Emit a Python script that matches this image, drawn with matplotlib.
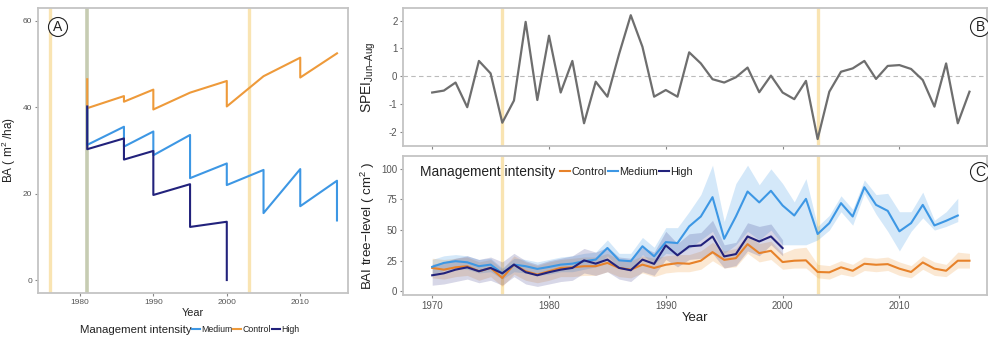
import matplotlib
matplotlib.use('Agg')
import matplotlib.pyplot as plt
from matplotlib.lines import Line2D
import numpy as np

plt.rcParams['font.family'] = ['Liberation Sans', 'DejaVu Sans']
plt.rcParams['axes.unicode_minus'] = False
plt.rcParams['mathtext.fontset'] = 'custom'
plt.rcParams['mathtext.rm'] = 'Liberation Sans'

# ---- data: panel A, stand basal area (steps = thinnings)
ctrl_yr = [1981, 1981, 1986, 1986, 1990, 1990, 1995, 2000, 2000, 2005, 2010, 2010, 2015]
ctrl_ba = [46.5, 39.8, 42.6, 41.3, 44.1, 39.5, 43.4, 46.1, 40.2, 47.2, 51.5, 46.9, 52.5]
med_yr = [1981, 1981, 1986, 1986, 1990, 1990, 1995, 1995, 2000, 2000, 2005, 2005, 2010, 2010, 2015, 2015]
med_ba = [40.0, 31.3, 35.5, 30.9, 34.4, 28.9, 33.6, 23.6, 27.0, 22.0, 25.5, 15.5, 25.7, 17.1, 23.0, 13.8]
high_yr = [1981, 1981, 1986, 1986, 1990, 1990, 1995, 1995, 2000, 2000]
high_ba = [40.2, 30.3, 32.8, 27.9, 29.9, 19.7, 22.2, 12.3, 13.5, 0.0]
drought_a = [1976, 2003]
thin_a = [1981]

# ---- data: panel B, SPEI Jun-Aug 1970-2016
spei_yr = list(range(1970, 2017))
spei = [-0.59, -0.52, -0.23, -1.12, 0.55, 0.10, -1.68, -0.88, 1.96, -0.86,
        1.46, -0.59, 0.55, -1.70, -0.20, -0.74, 0.80, 2.20, 1.06, -0.74,
        -0.50, -0.74, 0.86, 0.46, -0.11, -0.23, -0.04, 0.31, -0.58, 0.02,
        -0.59, -0.83, -0.17, -2.27, -0.56, 0.16, 0.28, 0.55, -0.10, 0.37,
        0.40, 0.26, -0.14, -1.10, 0.46, -1.70, -0.56]
drought_bc = [1976, 2003]

# ---- data: panel C, BAI tree level with confidence band
bai_ctrl_yr = list(range(1970, 2017))
bai_ctrl = [19.1, 17.7, 19.6, 20.5, 16.4, 19.1, 10.9, 21.8, 16.4, 13.7,
            16.4, 19.1, 19.6, 20.5, 20.5, 23.2, 19.1, 17.7, 21.8, 19.1,
            21.7, 23.0, 22.5, 25.0, 32.0, 25.7, 27.1, 38.5, 31.2, 33.1,
            23.9, 25.0, 25.3, 15.8, 15.5, 19.6, 16.8, 22.5, 21.7, 22.2,
            18.5, 15.8, 23.6, 18.5, 16.8, 25.0, 25.0]
bai_ctrl_lo = [11, 10, 12, 13, 9, 12, 4, 14, 9, 7,
               9, 12, 12, 13, 13, 16, 12, 11, 15, 12,
               15, 16, 16, 18, 25, 19, 20, 31, 24, 26,
               18, 19, 19, 11, 10, 14, 12, 17, 16, 17,
               13, 11, 18, 13, 12, 19, 19]
bai_ctrl_hi = [27, 26, 27, 28, 24, 26, 18, 29, 24, 21,
               24, 26, 27, 28, 28, 31, 26, 25, 29, 27,
               29, 30, 30, 33, 40, 33, 35, 46, 39, 41,
               31, 35, 36, 22, 21, 25, 22, 28, 27, 28,
               24, 21, 29, 24, 22, 32, 31]
bai_med_yr = list(range(1970, 2016))
bai_med = [20.0, 23.2, 24.6, 23.7, 20.5, 21.8, 14.7, 21.8, 20.5, 18.3,
           19.9, 21.8, 22.6, 24.6, 25.9, 35.4, 25.3, 24.6, 36.8, 28.6,
           40.2, 39.4, 53.0, 61.1, 76.9, 42.9, 61.1, 81.5, 72.6, 82.1,
           70.1, 61.9, 75.5, 46.8, 55.7, 72.0, 61.1, 85.0, 70.6, 65.7,
           49.0, 55.7, 70.6, 53.8, 57.6, 61.9]
bai_med_lo = [14, 17, 19, 18, 15, 16, 10, 16, 15, 13,
              14, 16, 16, 18, 20, 29, 19, 18, 30, 22,
              31, 30, 35, 42, 49, 31, 38, 49, 42, 50,
              38, 38, 38, 42, 50, 65, 54, 80, 63, 49,
              33, 49, 60, 50, 53, 57]
bai_med_hi = [26, 29, 30, 29, 26, 27, 19, 27, 26, 24,
              26, 28, 29, 31, 32, 42, 31, 31, 44, 36,
              52, 52, 65, 79, 103, 57, 88, 103, 87, 100,
              88, 73, 92, 53, 62, 78, 67, 91, 79, 80,
              65, 65, 81, 58, 65, 76]
bai_high_yr = list(range(1970, 2001))
bai_high = [13.1, 14.7, 17.7, 19.6, 16.4, 19.1, 14.7, 21.8, 15.6, 13.1,
            15.6, 17.7, 19.1, 25.3, 22.6, 25.9, 19.1, 17.2, 25.9, 22.4,
            37.5, 29.4, 36.7, 37.5, 44.8, 28.5, 30.4, 44.8, 40.7, 44.8,
            35.3]
bai_high_lo = [5, 6, 8, 10, 7, 9, 5, 12, 6, 4,
               6, 8, 9, 15, 13, 16, 10, 8, 16, 13,
               26, 20, 26, 27, 31, 19, 21, 33, 29, 38,
               29]
bai_high_hi = [22, 24, 27, 29, 26, 28, 24, 31, 25, 22,
               25, 27, 29, 35, 32, 36, 28, 27, 36, 32,
               49, 39, 47, 48, 58, 38, 40, 56, 53, 55,
               42]

c_ctrl = '#EE9A3A'
c_ctrl_c = '#E7822A'
c_med = '#3D97E4'
c_high = '#22227C'
c_vline = '#F8DC98'
c_thin = '#C6CCB2'
c_border = '#C4C4C4'
tick_col = '#555555'

W, H = 988, 338
fig = plt.figure(figsize=(W / 100, H / 100), dpi=100)

def px_axes(l, t, r, b):
    return fig.add_axes([l / W, 1 - b / H, (r - l) / W, (b - t) / H])

def style(ax, size):
    for s in ax.spines.values():
        s.set_color(c_border)
        s.set_linewidth(1.3)
    ax.tick_params(direction='out', length=2.5, width=0.8, color='#888888',
                   labelsize=size, labelcolor=tick_col, pad=1.5)

# ---- panel A
axA = px_axes(38, 8, 348, 293)
for yr in drought_a:
    axA.axvline(yr, color=c_vline, lw=2.4, alpha=0.75, zorder=1)
for yr in thin_a:
    axA.axvline(yr, color=c_thin, lw=2.6, zorder=1)
axA.plot(ctrl_yr, ctrl_ba, color=c_ctrl, lw=1.5, zorder=3)
axA.plot(med_yr, med_ba, color=c_med, lw=1.5, zorder=3)
axA.plot(high_yr, high_ba, color=c_high, lw=1.5, zorder=4)
axA.set_xlim(1974.3, 2016.5)
axA.set_ylim(-3, 63)
axA.set_xticks([1980, 1990, 2000, 2010])
axA.set_yticks([0, 20, 40, 60])
style(axA, 6)
axA.set_xlabel('Year', fontsize=7.8, color='#222222', labelpad=2)
axA.set_ylabel('BA ( m$^2$ /ha)', fontsize=8.5, color='#222222', labelpad=4)

fig.text(80 / W, 1 - 330 / H, 'Management intensity', fontsize=8.2,
         color='#222222', va='center', ha='left')
hA = [Line2D([], [], color=c_med, lw=1.5),
      Line2D([], [], color=c_ctrl, lw=1.5),
      Line2D([], [], color=c_high, lw=1.5)]
fig.legend(hA, ['Medium', 'Control', 'High'], loc='center left',
           bbox_to_anchor=(192 / W, 1 - 330 / H), ncol=3, frameon=False,
           fontsize=6.3, handlelength=0.9, handletextpad=0.15,
           columnspacing=0.1, borderpad=0, borderaxespad=0,
           labelcolor='#222222')

# ---- panel B
axB = px_axes(403, 8, 987, 146)
for yr in drought_bc:
    axB.axvline(yr, color=c_vline, lw=2.4, alpha=0.75, zorder=1)
axB.axhline(0, color='#BBBBBB', lw=0.8, ls=(0, (4, 3)), zorder=1)
axB.plot(spei_yr, spei, color='#6E6E6E', lw=1.6, zorder=3)
axB.set_xlim(1967.5, 2017.5)
axB.set_ylim(-2.52, 2.46)
axB.set_xticks([1970, 1980, 1990, 2000, 2010])
axB.set_xticklabels([])
axB.set_yticks([-2, -1, 0, 1, 2])
style(axB, 7)
axB.set_ylabel('SPEI$_{\\mathrm{Jun\u2013Aug}}$', fontsize=10, color='#222222',
               labelpad=8)

# ---- panel C
axC = px_axes(403, 156, 987, 295)
for yr in drought_bc:
    axC.axvline(yr, color=c_vline, lw=2.4, alpha=0.75, zorder=1)
axC.fill_between(bai_ctrl_yr, bai_ctrl_lo, bai_ctrl_hi, color=c_ctrl,
                 alpha=0.22, lw=0, zorder=2)
axC.fill_between(bai_med_yr, bai_med_lo, bai_med_hi, color=c_med,
                 alpha=0.22, lw=0, zorder=2)
axC.fill_between(bai_high_yr, bai_high_lo, bai_high_hi, color=c_high,
                 alpha=0.18, lw=0, zorder=2)
axC.plot(bai_ctrl_yr, bai_ctrl, color=c_ctrl_c, lw=1.5, zorder=3)
axC.plot(bai_med_yr, bai_med, color=c_med, lw=1.5, zorder=3)
axC.plot(bai_high_yr, bai_high, color=c_high, lw=1.5, zorder=4)
axC.set_xlim(1967.5, 2017.5)
axC.set_ylim(-3, 110.5)
axC.set_xticks([1970, 1980, 1990, 2000, 2010])
axC.set_yticks([0, 25, 50, 75, 100])
style(axC, 7)
axC.set_xlabel('Year', fontsize=9.5, color='#222222', labelpad=1)
axC.set_ylabel('BAI tree\u2212level ( cm$^2$ )', fontsize=9.6,
               color='#222222', labelpad=3)

fig.text(420 / W, 1 - 172 / H, 'Management intensity', fontsize=9.9,
         color='#222222', va='center', ha='left')
hC = [Line2D([], [], color=c_ctrl_c, lw=1.5),
      Line2D([], [], color=c_med, lw=1.5),
      Line2D([], [], color=c_high, lw=1.5)]
fig.legend(hC, ['Control', 'Medium', 'High'], loc='center left',
           bbox_to_anchor=(560 / W, 1 - 172 / H), ncol=3, frameon=False,
           fontsize=7.8, handlelength=0.9, handletextpad=0.15,
           columnspacing=0.1, borderpad=0, borderaxespad=0,
           labelcolor='#222222')

# ---- panel letters
for lab, x, y in [('A', 58, 27), ('B', 980, 27), ('C', 980, 172)]:
    fig.text(x / W, 1 - y / H, lab, fontsize=10, ha='center', va='center',
             color='#222222',
             bbox=dict(boxstyle='circle,pad=0.18', fc='white', ec='#222222',
                       lw=0.8))

fig.savefig('out.png', dpi=100)
